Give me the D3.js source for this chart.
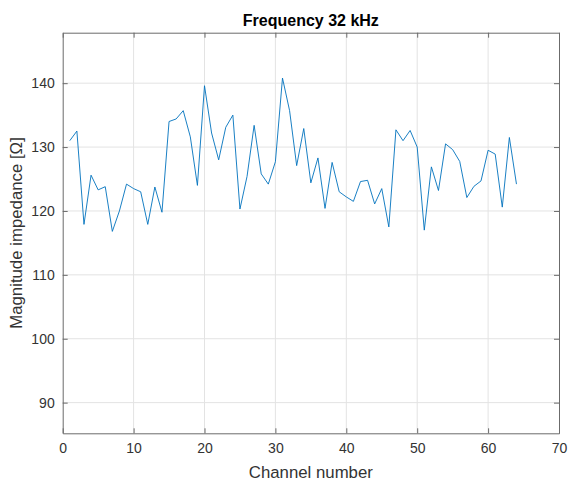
<!DOCTYPE html>
<html>
<head>
<meta charset="utf-8">
<script src="https://cdn.jsdelivr.net/npm/d3@7"></script>
<style>
  html, body { margin: 0; padding: 0; background: #fff; }
  svg { display: block; font-family: "Liberation Sans", Arial, sans-serif; }
</style>
</head>
<body>
<svg id="chart" width="568" height="486"></svg>
<script>
// channel numbers 1..64 and impedance magnitude
const channels = d3.range(1, 65)
const impedance = [
  131.0, 132.5, 117.9, 125.6, 123.3, 123.8, 116.8, 120.0, 124.2, 123.5,
  123.0, 117.9, 123.75, 119.8, 134.0, 134.4, 135.7, 131.6, 124.0, 139.6,
  132.2, 128.0, 133.1, 135.0, 120.3, 125.4, 133.4, 125.8, 124.2, 127.7,
  140.8, 135.7, 127.1, 132.9, 124.4, 128.3, 120.4, 127.6, 123.0, 122.2,
  121.5, 124.6, 124.8, 121.1, 123.5, 117.5, 132.7, 131.0, 132.6, 130.0,
  117.0, 126.9, 123.2, 130.5, 129.6, 127.75, 122.1, 123.85, 124.7, 129.5,
  128.9, 120.6, 131.5, 124.2
]
const xTicks = [0, 10, 20, 30, 40, 50, 60, 70]
const yTicks = [90, 100, 110, 120, 130, 140]
const xDomain = [0, 70]
const yDomain = [85.2, 147.9]

const svg = d3.select('#chart')
const mLeft = 62.7, mRight = 559, mTop = 32.7, mBottom = 433.3
const axisColor = '#6b6b6b'
const textColor = '#333'

const x = d3.scaleLinear().domain(xDomain).range([mLeft, mRight])
const y = d3.scaleLinear().domain(yDomain).range([mBottom, mTop])

// grid
const grid = svg.append('g')
grid.selectAll('line.gx').data(xTicks.slice(1, -1)).enter().append('line')
  .attr('x1', d => x(d)).attr('x2', d => x(d))
  .attr('y1', mTop).attr('y2', mBottom)
  .attr('stroke', '#e3e3e3').attr('stroke-width', 1)
grid.selectAll('line.gy').data(yTicks).enter().append('line')
  .attr('x1', mLeft).attr('x2', mRight)
  .attr('y1', d => y(d)).attr('y2', d => y(d))
  .attr('stroke', '#e3e3e3').attr('stroke-width', 1)

// data line
const line = d3.line()
  .x((d, i) => x(channels[i]))
  .y(d => y(d))
svg.append('path')
  .datum(impedance)
  .attr('fill', 'none')
  .attr('stroke', '#0072BD')
  .attr('stroke-width', 0.9)
  .attr('stroke-linejoin', 'round')
  .attr('d', line)

// axes: ticks point inward, box on all sides
const tick = 5
const xAxisB = d3.axisBottom(x).tickValues(xTicks).tickSizeInner(-tick).tickSizeOuter(0).tickPadding(10)
const xAxisT = d3.axisTop(x).tickValues(xTicks).tickSizeInner(-tick).tickSizeOuter(0).tickFormat('')
const yAxisL = d3.axisLeft(y).tickValues(yTicks).tickSizeInner(-tick).tickSizeOuter(0).tickPadding(8)
const yAxisR = d3.axisRight(y).tickValues(yTicks).tickSizeInner(-tick).tickSizeOuter(0).tickFormat('')

function style(g) {
  g.select('.domain').attr('stroke', axisColor)
  g.selectAll('.tick line').attr('stroke', axisColor)
  g.selectAll('.tick text').attr('fill', textColor).style('font-size', '14px')
    .style('font-family', '"Liberation Sans", Arial, sans-serif')
}

svg.append('g').attr('transform', `translate(0,${mBottom})`).call(xAxisB).call(style)
svg.append('g').attr('transform', `translate(0,${mTop})`).call(xAxisT).call(style)
svg.append('g').attr('transform', `translate(${mLeft},0)`).call(yAxisL).call(style)
svg.append('g').attr('transform', `translate(${mRight},0)`).call(yAxisR).call(style)

// title and labels
svg.append('text')
  .attr('x', (mLeft + mRight) / 2).attr('y', 26)
  .attr('text-anchor', 'middle')
  .style('font-size', '16px').style('font-weight', 'bold')
  .attr('fill', '#000')
  .text('Frequency 32 kHz')

svg.append('text')
  .attr('x', (mLeft + mRight) / 2).attr('y', 478)
  .attr('text-anchor', 'middle')
  .style('font-size', '16.8px')
  .attr('fill', textColor)
  .text('Channel number')

svg.append('text')
  .attr('transform', `translate(22,${(mTop + mBottom) / 2}) rotate(-90)`)
  .attr('text-anchor', 'middle')
  .style('font-size', '16.8px')
  .attr('fill', textColor)
  .text('Magnitude impedance [Ω]')
</script>
</body>
</html>
